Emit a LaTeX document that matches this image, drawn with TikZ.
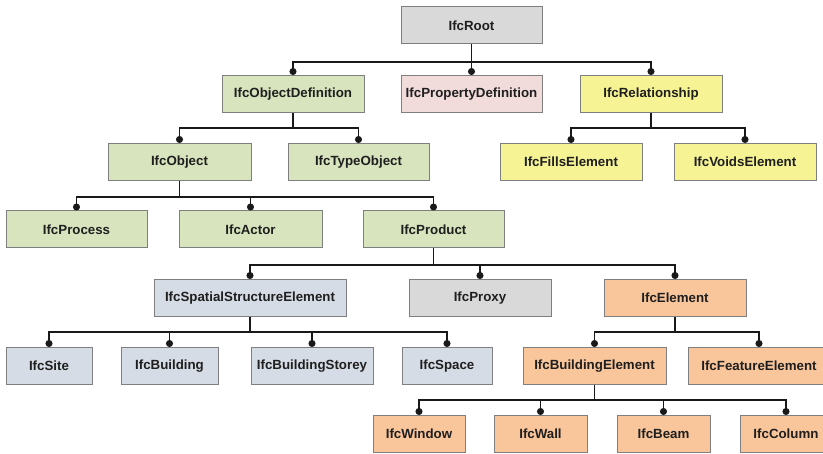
\documentclass[tikz,border=0pt]{standalone}
\usepackage{fontspec}
\setmainfont{Liberation Sans}
\usetikzlibrary{arrows.meta}
\definecolor{cgray}{HTML}{D9D9D9}
\definecolor{cgreen}{HTML}{D7E4BD}
\definecolor{cpink}{HTML}{F2DCDB}
\definecolor{cyellow}{HTML}{F6F394}
\definecolor{cblue}{HTML}{D6DCE5}
\definecolor{corange}{HTML}{F9C59B}
\definecolor{cborder}{HTML}{7F7F7F}
\tikzset{
  box/.style={draw=cborder, line width=1pt, rectangle, inner sep=0pt,
    minimum height=37pt, font=\fontsize{13.3}{15}\selectfont\bfseries, text=black!88},
  conn/.style={draw=black!90, line width=1.1pt, -{Circle[length=7pt,width=7pt]}}
}
\begin{document}
\begin{tikzpicture}[x=1pt,y=-1pt]
\useasboundingbox (0,0) rectangle (823,454);
% row 1
\node[box, fill=cgray, minimum width=141pt] (root) at (471.5,25.5) {IfcRoot};
% row 2
\node[box, fill=cgreen, minimum width=142pt] (objdef) at (293,94) {IfcObjectDefinition};
\node[box, fill=cpink, minimum width=141pt] (propdef) at (471.5,94) {IfcPropertyDefinition};
\node[box, fill=cyellow, minimum width=142pt] (rel) at (651,94) {IfcRelationship};
% row 3
\node[box, fill=cgreen, minimum width=143pt] (obj) at (179.5,162) {IfcObject};
\node[box, fill=cgreen, minimum width=141pt] (typeobj) at (358.5,162) {IfcTypeObject};
\node[box, fill=cyellow, minimum width=142pt] (fills) at (571,162) {IfcFillsElement};
\node[box, fill=cyellow, minimum width=142pt] (voids) at (745,162) {IfcVoidsElement};
% row 4
\node[box, fill=cgreen, minimum width=141pt] (process) at (76.5,229.5) {IfcProcess};
\node[box, fill=cgreen, minimum width=143pt] (actor) at (250.5,229.5) {IfcActor};
\node[box, fill=cgreen, minimum width=141pt] (product) at (433.5,229.5) {IfcProduct};
% row 5
\node[box, fill=cblue, minimum width=192pt] (sse) at (250,298) {IfcSpatialStructureElement};
\node[box, fill=cgray, minimum width=142pt] (proxy) at (480,298) {IfcProxy};
\node[box, fill=corange, minimum width=142pt] (element) at (675,298) {IfcElement};
% row 6
\node[box, fill=cblue, minimum width=86pt] (site) at (49,366) {IfcSite};
\node[box, fill=cblue, minimum width=97pt] (building) at (169.5,366) {IfcBuilding};
\node[box, fill=cblue, minimum width=122pt] (storey) at (312,366) {IfcBuildingStorey};
\node[box, fill=cblue, minimum width=90pt] (space) at (447,366) {IfcSpace};
\node[box, fill=corange, minimum width=143pt] (buildel) at (594.5,366) {IfcBuildingElement};
\node[box, fill=corange, minimum width=142pt] (feature) at (759,366) {IfcFeatureElement};
% row 7
\node[box, fill=corange, minimum width=92pt] (window) at (419,434) {IfcWindow};
\node[box, fill=corange, minimum width=93pt] (wall) at (540.5,434) {IfcWall};
\node[box, fill=corange, minimum width=93pt] (beam) at (663.5,434) {IfcBeam};
\node[box, fill=corange, minimum width=92pt] (column) at (786,434) {IfcColumn};

% bus levels
\coordinate (b1) at (0,62);
\coordinate (b2) at (0,128);
\coordinate (b3) at (0,197);
\coordinate (b4) at (0,265);
\coordinate (b5) at (0,332);
\coordinate (b6) at (0,400);

% connectors
\foreach \c in {objdef,propdef,rel}
  \draw[conn] (root.south) -- (root.south |- b1) -| (\c.north);
\foreach \c in {obj,typeobj}
  \draw[conn] (objdef.south) -- (objdef.south |- b2) -| (\c.north);
\foreach \c in {fills,voids}
  \draw[conn] (rel.south) -- (rel.south |- b2) -| (\c.north);
\foreach \c in {process,actor,product}
  \draw[conn] (obj.south) -- (obj.south |- b3) -| (\c.north);
\foreach \c in {sse,proxy,element}
  \draw[conn] (product.south) -- (product.south |- b4) -| (\c.north);
\foreach \c in {site,building,storey,space}
  \draw[conn] (sse.south) -- (sse.south |- b5) -| (\c.north);
\foreach \c in {buildel,feature}
  \draw[conn] (element.south) -- (element.south |- b5) -| (\c.north);
\foreach \c in {window,wall,beam,column}
  \draw[conn] (buildel.south) -- (buildel.south |- b6) -| (\c.north);
\end{tikzpicture}
\end{document}
